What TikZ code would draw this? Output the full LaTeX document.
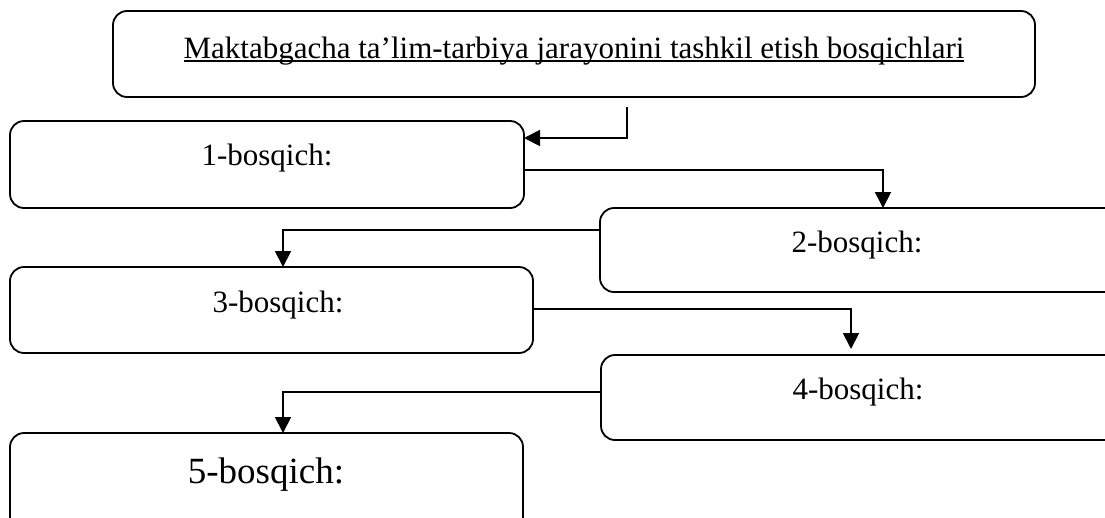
\documentclass[tikz,border=0pt]{standalone}
\usepackage{fontspec}
\setmainfont{Liberation Serif}
\usetikzlibrary{arrows.meta}
\begin{document}
\begin{tikzpicture}[x=1pt,y=-1pt,
  stagebox/.style={draw, line width=1.8pt, rounded corners=14pt, inner sep=0pt, outer sep=0pt, anchor=north west},
  lbl/.style={inner sep=0pt, outer sep=0pt, anchor=base, font=\fontsize{31}{36}\selectfont},
  biglbl/.style={lbl, font=\fontsize{37}{42}\selectfont},
  conn/.style={line width=1.8pt, -{Triangle[length=16pt,width=16pt]}}]
\useasboundingbox (0,0) rectangle (1105,517);
\clip (0,0) rectangle (1105,517);
\fill[white] (0,0) rectangle (1105,517);
% boxes
\node[stagebox, minimum width=922pt, minimum height=86pt] (b0) at (113,11) {};
\node[stagebox, minimum width=514pt, minimum height=87pt] (b1) at (10,121) {};
\node[stagebox, minimum width=530pt, minimum height=84pt] (b2) at (600,208) {};
\node[stagebox, minimum width=523pt, minimum height=86pt] (b3) at (10,267) {};
\node[stagebox, minimum width=530pt, minimum height=85pt] (b4) at (601,355) {};
\node[stagebox, minimum width=513pt, minimum height=100pt] (b5) at (10,433) {};
% labels
\node[lbl] (t0) at (574,58) {Maktabgacha ta’lim-tarbiya jarayonini tashkil etish bosqichlari};
\draw[line width=1.5pt] ([yshift=-3pt]t0.base west) -- ([yshift=-3pt]t0.base east);
\node[lbl] (t1) at (267,165) {1-bosqich:};
\node[lbl] (t2) at (857,252) {2-bosqich:};
\node[lbl] (t3) at (278,312) {3-bosqich:};
\node[lbl] (t4) at (858,399) {4-bosqich:};
\node[biglbl] (t5) at (266,483) {5-bosqich:};
% connectors
\coordinate (c0) at (627,107);
\draw[conn] (c0) |- ([yshift=26.5pt]b1.east);
\draw[conn] ([yshift=-5.5pt]b1.east) -| ([xshift=18pt]b2.north);
\draw[conn] ([yshift=20pt]b2.west) -| ([xshift=11.5pt]b3.north);
\draw[conn] ([yshift=1pt]b3.east) -| ([xshift=-15pt,yshift=6pt]b4.north);
\draw[conn] ([yshift=5.5pt]b4.west) -| ([xshift=16.5pt]b5.north);
\end{tikzpicture}
\end{document}
